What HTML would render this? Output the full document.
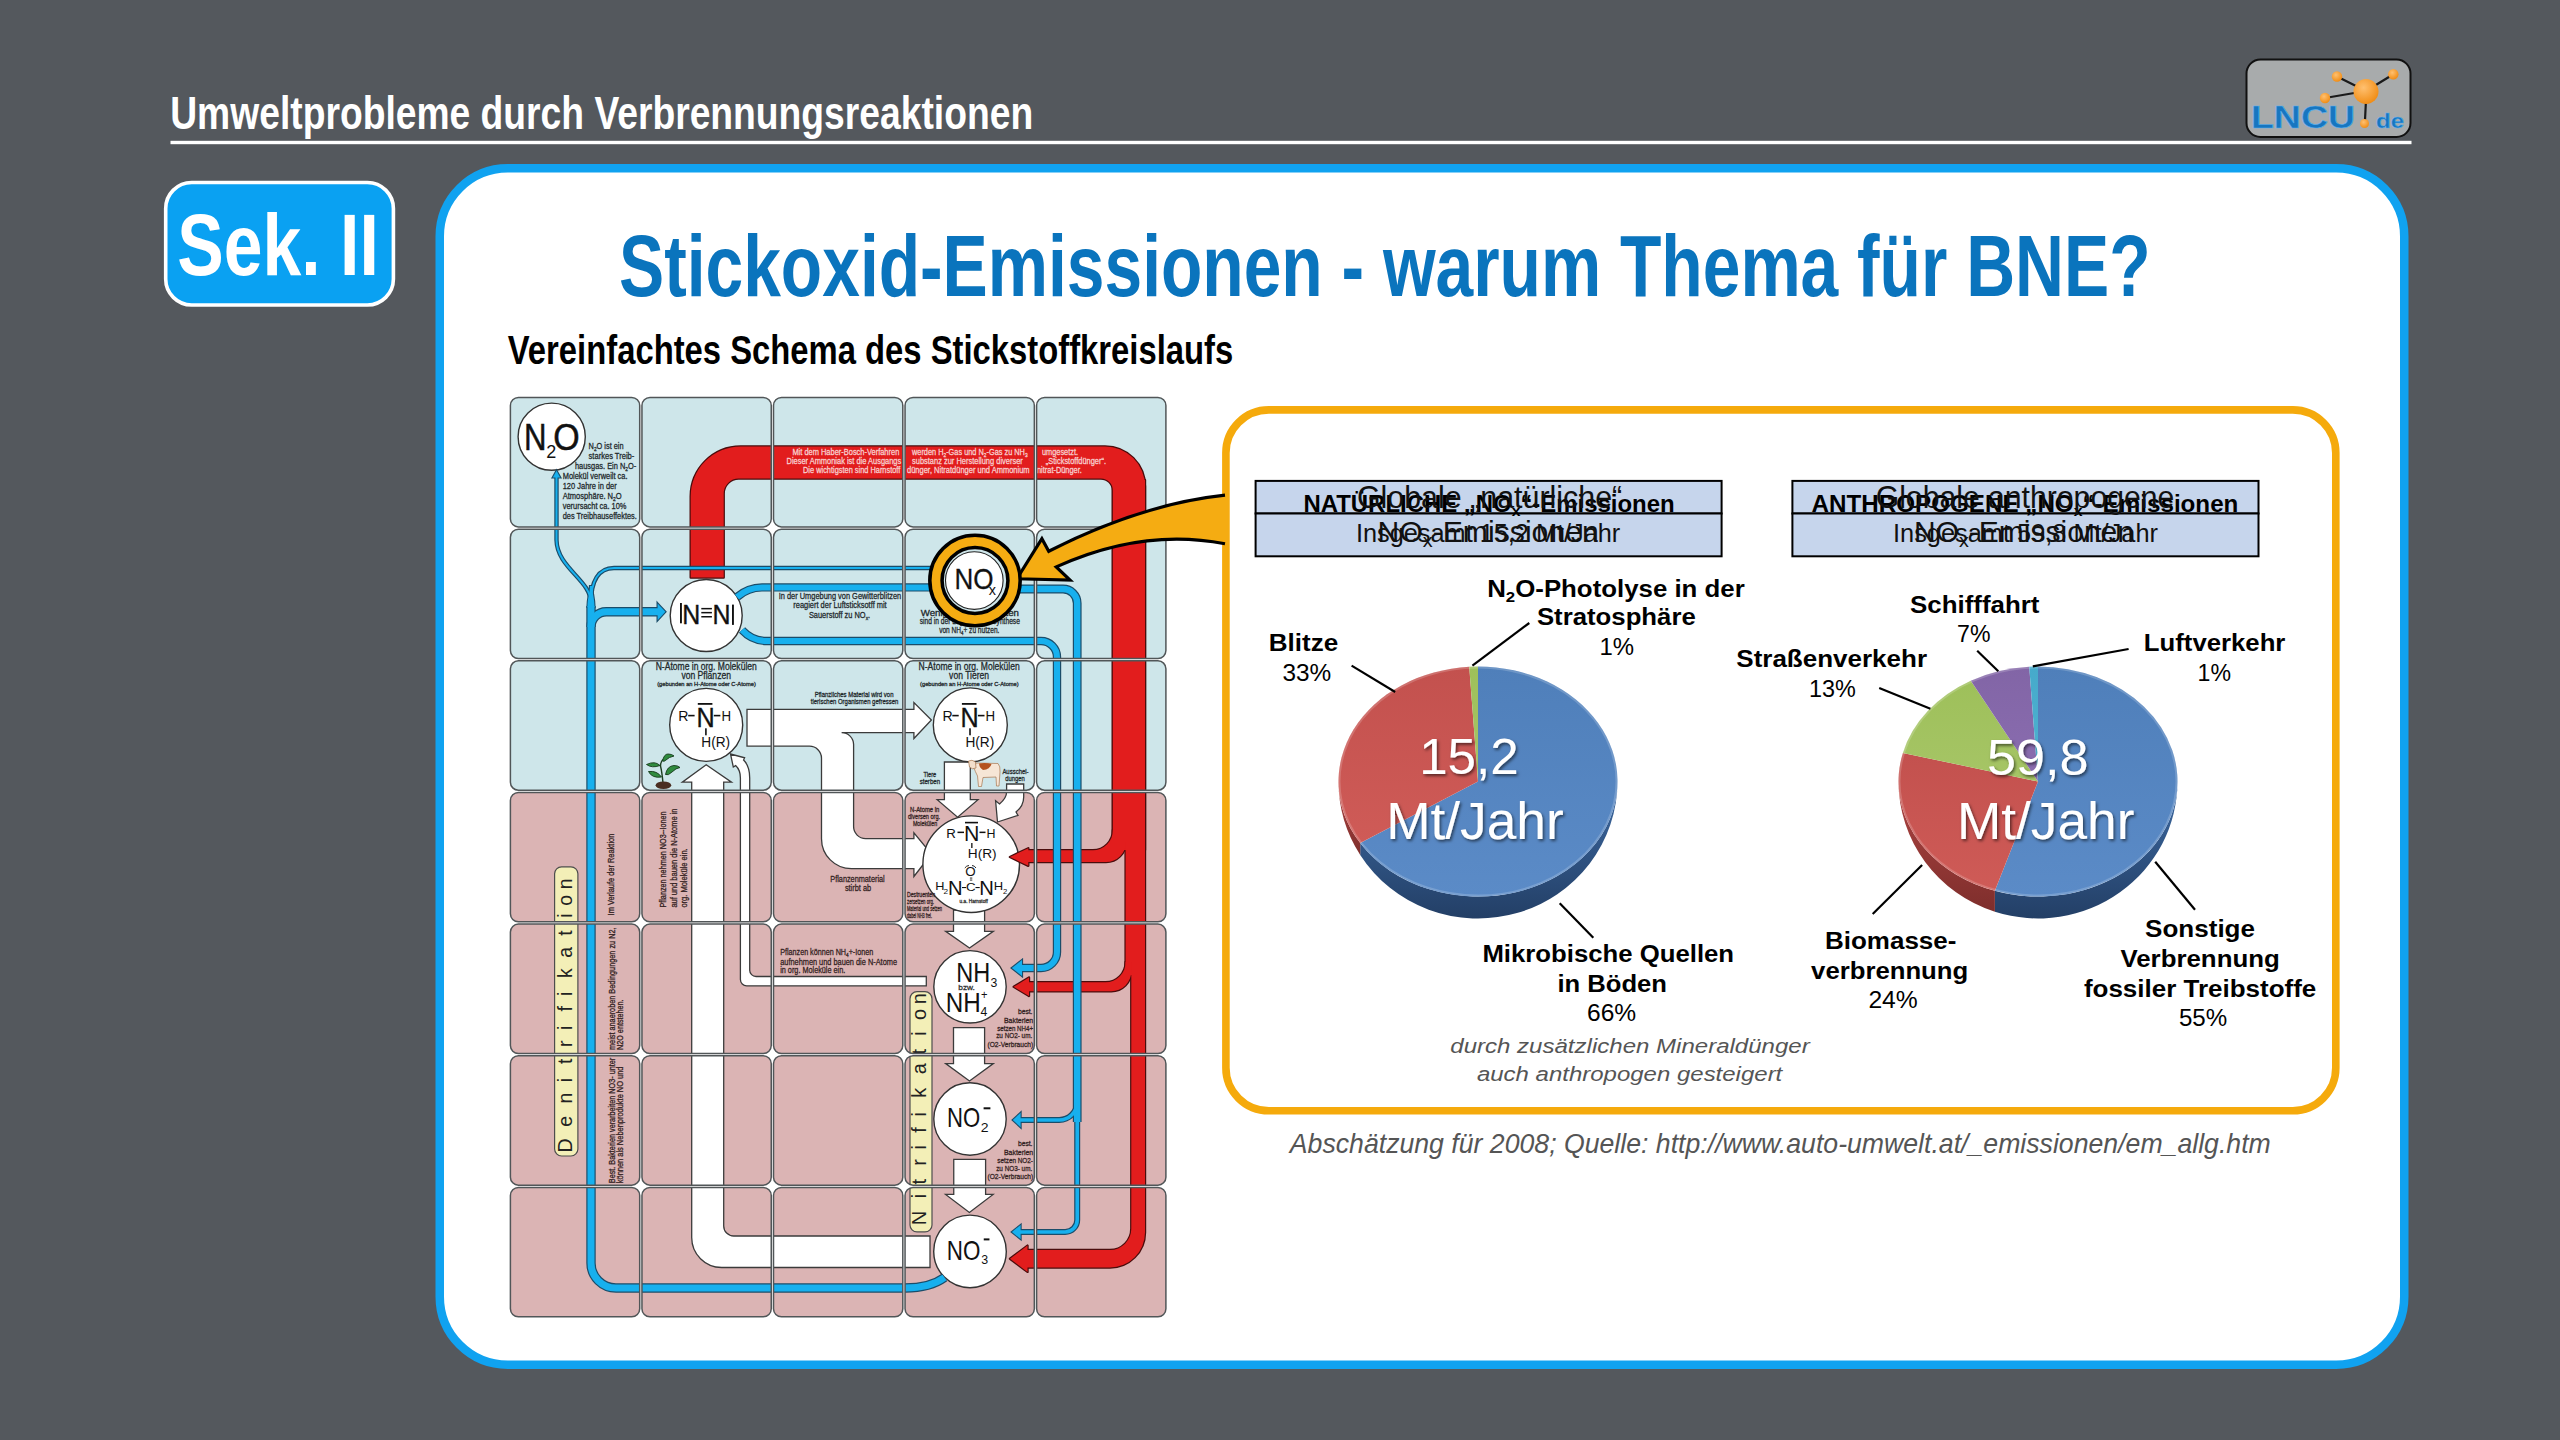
<!DOCTYPE html>
<html><head><meta charset="utf-8"><title>Stickoxid-Emissionen</title>
<style>html,body{margin:0;padding:0;background:#54585d;overflow:hidden}svg{display:block}</style>
</head><body>
<svg width="2560" height="1440" viewBox="0 0 2560 1440" font-family='"Liberation Sans", sans-serif'><rect x="0" y="0" width="2560" height="1440" fill="#54585d"/>
<text x="170.2" y="128.7" font-size="46" fill="#fff" font-weight="bold" textLength="863.0" lengthAdjust="spacingAndGlyphs">Umweltprobleme durch Verbrennungsreaktionen</text>
<rect x="170.5" y="140.8" width="2241" height="3.4" fill="#fff"/>
<rect x="2246.5" y="59.5" width="164" height="77.5" rx="14" fill="#a8abac" stroke="#111" stroke-width="2"/>
<g stroke="#1a1a1a" stroke-width="2.2" stroke-linecap="round"><line x1="2366" y1="91" x2="2337" y2="76.5"/><line x1="2366" y1="91" x2="2393" y2="74.5"/><line x1="2366" y1="91" x2="2325" y2="98"/><line x1="2366" y1="100" x2="2365" y2="120"/></g>
<defs><radialGradient id="og" cx="0.4" cy="0.35" r="0.7"><stop offset="0" stop-color="#ffc070"/><stop offset="1" stop-color="#f08a10"/></radialGradient></defs>
<circle cx="2366" cy="91.5" r="12.5" fill="url(#og)"/>
<circle cx="2337" cy="76.5" r="5.2" fill="url(#og)"/>
<circle cx="2393.3" cy="74.2" r="5.2" fill="url(#og)"/>
<circle cx="2325" cy="98" r="5.2" fill="url(#og)"/>
<circle cx="2364.5" cy="123.5" r="4.5" fill="url(#og)"/>
<text x="2251.0" y="128.3" font-size="31" fill="#1776c0" font-weight="bold" textLength="104.0" lengthAdjust="spacingAndGlyphs" stroke="#5ab0ee" stroke-width="0.6">LNCU</text>
<text x="2376.0" y="128.3" font-size="21" fill="#1776c0" font-weight="bold" textLength="28.0" lengthAdjust="spacingAndGlyphs" stroke="#5ab0ee" stroke-width="0.5">de</text>
<rect x="165.7" y="182.5" width="227.7" height="122.5" rx="26" fill="#0aa1f2" stroke="#fff" stroke-width="3.6"/>
<text x="177.3" y="275.4" font-size="87" fill="#fff" font-weight="bold" textLength="201.5" lengthAdjust="spacingAndGlyphs">Sek. II</text>
<rect x="439.75" y="168.25" width="1964.5" height="1196.5" rx="68" fill="#fff" stroke="#10a2f0" stroke-width="8.5"/>
<text x="619.0" y="295.5" font-size="86.5" fill="#0a74bd" font-weight="bold" textLength="1531.5" lengthAdjust="spacingAndGlyphs">Stickoxid-Emissionen - warum Thema für BNE?</text>
<text x="507.8" y="363.6" font-size="40" fill="#000" font-weight="bold" textLength="725.4" lengthAdjust="spacingAndGlyphs">Vereinfachtes Schema des Stickstoffkreislaufs</text>
<rect x="1225.9" y="409.9" width="1109.9" height="700.9" rx="43" fill="#fff" stroke="#f5aa0c" stroke-width="7.6"/>
<text x="1289.8" y="1152.8" font-size="27.2" fill="#555" font-style="italic" textLength="981.0" lengthAdjust="spacingAndGlyphs">Abschätzung für 2008; Quelle: http://www.auto-umwelt.at/_emissionen/em_allg.htm</text>
<defs><clipPath id="cells"><rect x="510.40" y="397.50" width="129.3" height="129.4" rx="8"/><rect x="641.95" y="397.50" width="129.3" height="129.4" rx="8"/><rect x="773.50" y="397.50" width="129.3" height="129.4" rx="8"/><rect x="905.05" y="397.50" width="129.3" height="129.4" rx="8"/><rect x="1036.60" y="397.50" width="129.3" height="129.4" rx="8"/><rect x="510.40" y="529.15" width="129.3" height="129.4" rx="8"/><rect x="641.95" y="529.15" width="129.3" height="129.4" rx="8"/><rect x="773.50" y="529.15" width="129.3" height="129.4" rx="8"/><rect x="905.05" y="529.15" width="129.3" height="129.4" rx="8"/><rect x="1036.60" y="529.15" width="129.3" height="129.4" rx="8"/><rect x="510.40" y="660.80" width="129.3" height="129.4" rx="8"/><rect x="641.95" y="660.80" width="129.3" height="129.4" rx="8"/><rect x="773.50" y="660.80" width="129.3" height="129.4" rx="8"/><rect x="905.05" y="660.80" width="129.3" height="129.4" rx="8"/><rect x="1036.60" y="660.80" width="129.3" height="129.4" rx="8"/><rect x="510.40" y="792.45" width="129.3" height="129.4" rx="8"/><rect x="641.95" y="792.45" width="129.3" height="129.4" rx="8"/><rect x="773.50" y="792.45" width="129.3" height="129.4" rx="8"/><rect x="905.05" y="792.45" width="129.3" height="129.4" rx="8"/><rect x="1036.60" y="792.45" width="129.3" height="129.4" rx="8"/><rect x="510.40" y="924.10" width="129.3" height="129.4" rx="8"/><rect x="641.95" y="924.10" width="129.3" height="129.4" rx="8"/><rect x="773.50" y="924.10" width="129.3" height="129.4" rx="8"/><rect x="905.05" y="924.10" width="129.3" height="129.4" rx="8"/><rect x="1036.60" y="924.10" width="129.3" height="129.4" rx="8"/><rect x="510.40" y="1055.75" width="129.3" height="129.4" rx="8"/><rect x="641.95" y="1055.75" width="129.3" height="129.4" rx="8"/><rect x="773.50" y="1055.75" width="129.3" height="129.4" rx="8"/><rect x="905.05" y="1055.75" width="129.3" height="129.4" rx="8"/><rect x="1036.60" y="1055.75" width="129.3" height="129.4" rx="8"/><rect x="510.40" y="1187.40" width="129.3" height="129.4" rx="8"/><rect x="641.95" y="1187.40" width="129.3" height="129.4" rx="8"/><rect x="773.50" y="1187.40" width="129.3" height="129.4" rx="8"/><rect x="905.05" y="1187.40" width="129.3" height="129.4" rx="8"/><rect x="1036.60" y="1187.40" width="129.3" height="129.4" rx="8"/></clipPath><linearGradient id="cellB" x1="0" y1="0" x2="1" y2="1"><stop offset="0" stop-color="#cde6ea"/><stop offset="1" stop-color="#d0e7ec"/></linearGradient><linearGradient id="cellP" x1="0" y1="0" x2="1" y2="1"><stop offset="0" stop-color="#dab3b4"/><stop offset="1" stop-color="#dcb6b6"/></linearGradient></defs>
<g clip-path="url(#cells)">
<rect x="505" y="390" width="670" height="402.5" fill="#cee6ea"/>
<rect x="505" y="791.5" width="670" height="537.5" fill="#dbb4b4"/>
<path d="M930,1236 H733.7 A10,10 0 0 1 723.7,1226 V782.2 H731.5 L706.2,764.7 L682.3,782.2 H691.7 V1237.5 A30,30 0 0 0 721.7,1267.5 H930 Z" fill="#fff" stroke="#3b3b3b" stroke-width="1.3" stroke-linejoin="miter"/>
<path d="M926.3,976.5 H756 A6.3,6.3 0 0 1 749.7,970.2 V778 Q749.7,766 743.6,760 L744.6,757.8 L730.5,754 L733.3,767 L735.6,765.6 Q740.4,770 740.4,778 V979.5 A6.3,6.3 0 0 0 746.7,985.8 H926.3 Z" fill="#fff" stroke="#3b3b3b" stroke-width="1.3" stroke-linejoin="miter"/>
<path d="M747,709.3 H913.9 V702.5 L931.4,720 L913.9,738.5 V732.6 H841.6 A12,12 0 0 1 853.6,744.6 V826.6 A12,12 0 0 0 865.6,838.6 H913.9 V832.8 L931.4,854 L913.9,876.5 V868.7 H851.5 A30,30 0 0 1 821.5,838.7 V758.2 A12,12 0 0 0 809.5,746.2 H747 Z" fill="#fff" stroke="#3b3b3b" stroke-width="1.3" stroke-linejoin="miter"/>
<path d="M944.4,762 H970.3 V799.7 H978 L957.6,817.2 L937.2,799.7 H944.4 Z" fill="#fff" stroke="#3b3b3b" stroke-width="1.3" stroke-linejoin="miter"/>
<path d="M1006.6,784 H1023.7 V797 Q1023.7,806 1016,812 L1018,815.3 L997.5,822 L995.6,800.7 L999.5,804 Q1006.6,798 1006.6,792 Z" fill="#fff" stroke="#3b3b3b" stroke-width="1.3" stroke-linejoin="miter"/>
<path d="M953.5,910 H984.6 V931.4 H993.3 L969.5,948 L945.7,931.4 H953.5 Z" fill="#fff" stroke="#3b3b3b" stroke-width="1.3" stroke-linejoin="miter"/>
<path d="M953.5,1027.6 H984.6 V1063.6 H993.3 L969.5,1081 L945.7,1063.6 H953.5 Z" fill="#fff" stroke="#3b3b3b" stroke-width="1.3" stroke-linejoin="miter"/>
<path d="M953.75,1159.4 H985.6 V1194.4 H993.1 L969.4,1212.5 L945.6,1194.4 H953.75 Z" fill="#fff" stroke="#3b3b3b" stroke-width="1.3" stroke-linejoin="miter"/>
<circle cx="551.7" cy="436.7" r="33.6" fill="#fff" stroke="#333" stroke-width="1.4"/>
<circle cx="706.2" cy="615.5" r="36" fill="#fff" stroke="#333" stroke-width="1.4"/>
<circle cx="706.2" cy="724.9" r="36.5" fill="#fff" stroke="#333" stroke-width="1.4"/>
<circle cx="970.3" cy="724.9" r="37" fill="#fff" stroke="#333" stroke-width="1.4"/>
<circle cx="971.2" cy="864.2" r="48.3" fill="#fff" stroke="#333" stroke-width="1.4"/>
<circle cx="970" cy="986.8" r="36.2" fill="#fff" stroke="#333" stroke-width="1.4"/>
<circle cx="970" cy="1119" r="36.2" fill="#fff" stroke="#333" stroke-width="1.4"/>
<circle cx="970" cy="1251.4" r="36.3" fill="#fff" stroke="#333" stroke-width="1.4"/>
<path d="M690.7,577.6 V496.4 A50,50 0 0 1 740.7,446.4 H1105 A40,40 0 0 1 1145,486.4 V850 H1112.9 V490.5 A12,12 0 0 0 1100.9,478.5 H738.7 A15,15 0 0 0 723.7,493.5 V577.6 Z" fill="none" stroke="#4a0c0c" stroke-width="2.4" stroke-linejoin="round"/>
<path d="M1145,480 V1232.5 A35,35 0 0 1 1110,1267.5 H1027.5 V1271.9 L1010,1258.75 L1027.5,1245.6 V1250 H1110 A21.3,21.3 0 0 0 1131.3,1228.7 V975 H1125.6 V848 H1112.9 V480 Z" fill="none" stroke="#4a0c0c" stroke-width="2.4" stroke-linejoin="round"/>
<path d="M1112.9,830 A20,20 0 0 1 1092.9,850.3 H1028.3 V848.3 L1009.9,857 L1028.3,865.8 V862 H1106 A20,20 0 0 0 1126,842 V830 Z" fill="none" stroke="#4a0c0c" stroke-width="2.4" stroke-linejoin="round"/>
<path d="M1125.6,962 A20,20 0 0 1 1105.6,982.3 H1029 V977.5 L1013.7,986.8 L1029,996 V991.3 H1111 A20,20 0 0 0 1131.3,971 V962 Z" fill="none" stroke="#4a0c0c" stroke-width="2.4" stroke-linejoin="round"/>
<path d="M690.7,577.6 V496.4 A50,50 0 0 1 740.7,446.4 H1105 A40,40 0 0 1 1145,486.4 V850 H1112.9 V490.5 A12,12 0 0 0 1100.9,478.5 H738.7 A15,15 0 0 0 723.7,493.5 V577.6 Z" fill="#e21d1d"/>
<path d="M1145,480 V1232.5 A35,35 0 0 1 1110,1267.5 H1027.5 V1271.9 L1010,1258.75 L1027.5,1245.6 V1250 H1110 A21.3,21.3 0 0 0 1131.3,1228.7 V975 H1125.6 V848 H1112.9 V480 Z" fill="#e21d1d"/>
<path d="M1112.9,830 A20,20 0 0 1 1092.9,850.3 H1028.3 V848.3 L1009.9,857 L1028.3,865.8 V862 H1106 A20,20 0 0 0 1126,842 V830 Z" fill="#e21d1d"/>
<path d="M1125.6,962 A20,20 0 0 1 1105.6,982.3 H1029 V977.5 L1013.7,986.8 L1029,996 V991.3 H1111 A20,20 0 0 0 1131.3,971 V962 Z" fill="#e21d1d"/>
<text x="792.4" y="455.1" font-size="9" fill="#f8d0d0" textLength="106.9" lengthAdjust="spacingAndGlyphs" stroke="#f8d0d0" stroke-width="0.3">Mit dem Haber-Bosch-Verfahren</text>
<text x="786.5" y="463.9" font-size="9" fill="#f8d0d0" textLength="114.7" lengthAdjust="spacingAndGlyphs" stroke="#f8d0d0" stroke-width="0.3">Dieser Ammoniak ist die Ausgangs</text>
<text x="803.0" y="473.2" font-size="9" fill="#f8d0d0" textLength="97.3" lengthAdjust="spacingAndGlyphs" stroke="#f8d0d0" stroke-width="0.3">Die wichtigsten sind Harnstoff</text>
<text x="912.0" y="455.1" font-size="9" fill="#f8d0d0" textLength="115.6" lengthAdjust="spacingAndGlyphs" stroke="#f8d0d0" stroke-width="0.3"><tspan>werden H</tspan><tspan font-size="5.9" dy="2.0">2</tspan><tspan dy="-2.0">-Gas und N</tspan><tspan font-size="5.9" dy="2.0">2</tspan><tspan dy="-2.0">-Gas zu NH</tspan><tspan font-size="5.9" dy="2.0">3</tspan></text>
<text x="912.0" y="463.9" font-size="9" fill="#f8d0d0" textLength="110.8" lengthAdjust="spacingAndGlyphs" stroke="#f8d0d0" stroke-width="0.3">substanz zur Herstellung diverser</text>
<text x="907.0" y="473.2" font-size="9" fill="#f8d0d0" textLength="122.6" lengthAdjust="spacingAndGlyphs" stroke="#f8d0d0" stroke-width="0.3">dünger, Nitratdünger und Ammonium</text>
<text x="1042.0" y="455.1" font-size="9" fill="#f8d0d0" textLength="36.0" lengthAdjust="spacingAndGlyphs" stroke="#f8d0d0" stroke-width="0.3">umgesetzt.</text>
<text x="1045.8" y="463.9" font-size="9" fill="#f8d0d0" textLength="60.2" lengthAdjust="spacingAndGlyphs" stroke="#f8d0d0" stroke-width="0.3">„Stickstoffdünger“.</text>
<text x="1037.0" y="473.2" font-size="9" fill="#f8d0d0" textLength="44.8" lengthAdjust="spacingAndGlyphs" stroke="#f8d0d0" stroke-width="0.3">nitrat-Dünger.</text>
<path d="M944.5,1277.5 Q930,1288 905,1288 H616 A25,25 0 0 1 591,1263 V606" fill="none" stroke="#1b4d6a" stroke-width="9.4"/>
<path d="M591,627 A15.3,15.3 0 0 1 606.3,611.7 H658" fill="none" stroke="#1b4d6a" stroke-width="9.4"/>
<path d="M591,603 C591,580 557,568 556.5,540 V476" fill="none" stroke="#1b4d6a" stroke-width="4.4"/>
<path d="M591,603 C591,582 598,568 614,568 H935" fill="none" stroke="#1b4d6a" stroke-width="4.4"/>
<path d="M737,597 Q748,587.4 762,587.4 H945" fill="none" stroke="#1b4d6a" stroke-width="8.4"/>
<path d="M1005,589 H1063 A14.2,14.2 0 0 1 1077.2,603.2 V1122" fill="none" stroke="#1b4d6a" stroke-width="8.8"/>
<path d="M1077.2,1110 V1220 A12,12 0 0 1 1065.2,1232 H1019" fill="none" stroke="#1b4d6a" stroke-width="6.0"/>
<path d="M1077.2,1102 A18,18 0 0 1 1059.2,1120 H1019" fill="none" stroke="#1b4d6a" stroke-width="6.0"/>
<path d="M742,630 Q752,641 767,641 H1041 A16,16 0 0 1 1057,657 V952 A16,16 0 0 1 1041,968 H1020" fill="none" stroke="#1b4d6a" stroke-width="8.4"/>
<path d="M657.6,603.4 L665.4,611.7 L657.6,620.2 Z" fill="#17b0ee" stroke="#1b4d6a" stroke-width="2.2" stroke-linejoin="miter"/>
<path d="M552.8,477.5 L556.5,470.7 L560.2,477.5 Z" fill="#17b0ee" stroke="#1b4d6a" stroke-width="2.2" stroke-linejoin="miter"/>
<path d="M587.5,607 C587.5,598 589.8,593 590,586 L592,586 C592.2,593 594.5,598 594.5,607 Z" fill="#17b0ee" stroke="#1b4d6a" stroke-width="2.2" stroke-linejoin="miter"/>
<path d="M1020.6,1112.8 L1012.8,1120 L1020.6,1127.2 Z" fill="#17b0ee" stroke="#1b4d6a" stroke-width="2.2" stroke-linejoin="miter"/>
<path d="M1020.6,1225 L1011.9,1232 L1020.6,1239 Z" fill="#17b0ee" stroke="#1b4d6a" stroke-width="2.2" stroke-linejoin="miter"/>
<path d="M1022,960 L1011.8,968 L1022,976 Z" fill="#17b0ee" stroke="#1b4d6a" stroke-width="2.2" stroke-linejoin="miter"/>
<path d="M944.5,1277.5 Q930,1288 905,1288 H616 A25,25 0 0 1 591,1263 V606" fill="none" stroke="#17b0ee" stroke-width="7.0"/>
<path d="M591,627 A15.3,15.3 0 0 1 606.3,611.7 H658" fill="none" stroke="#17b0ee" stroke-width="7.0"/>
<path d="M591,603 C591,580 557,568 556.5,540 V476" fill="none" stroke="#17b0ee" stroke-width="2.0"/>
<path d="M591,603 C591,582 598,568 614,568 H935" fill="none" stroke="#17b0ee" stroke-width="2.0"/>
<path d="M737,597 Q748,587.4 762,587.4 H945" fill="none" stroke="#17b0ee" stroke-width="6.0"/>
<path d="M1005,589 H1063 A14.2,14.2 0 0 1 1077.2,603.2 V1122" fill="none" stroke="#17b0ee" stroke-width="6.4"/>
<path d="M1077.2,1110 V1220 A12,12 0 0 1 1065.2,1232 H1019" fill="none" stroke="#17b0ee" stroke-width="3.6"/>
<path d="M1077.2,1102 A18,18 0 0 1 1059.2,1120 H1019" fill="none" stroke="#17b0ee" stroke-width="3.6"/>
<path d="M742,630 Q752,641 767,641 H1041 A16,16 0 0 1 1057,657 V952 A16,16 0 0 1 1041,968 H1020" fill="none" stroke="#17b0ee" stroke-width="6.0"/>
<path d="M657.6,603.4 L665.4,611.7 L657.6,620.2 Z" fill="#17b0ee"/>
<path d="M552.8,477.5 L556.5,470.7 L560.2,477.5 Z" fill="#17b0ee"/>
<path d="M587.5,607 C587.5,598 589.8,593 590,586 L592,586 C592.2,593 594.5,598 594.5,607 Z" fill="#17b0ee"/>
<path d="M1020.6,1112.8 L1012.8,1120 L1020.6,1127.2 Z" fill="#17b0ee"/>
<path d="M1020.6,1225 L1011.9,1232 L1020.6,1239 Z" fill="#17b0ee"/>
<path d="M1022,960 L1011.8,968 L1022,976 Z" fill="#17b0ee"/>
<rect x="554.6" y="866.8" width="23.3" height="289.2" rx="7" fill="#f3efb7" stroke="#4d4d4d" stroke-width="1.2"/>
<rect x="910" y="991.7" width="22" height="240.2" rx="7" fill="#f3efb7" stroke="#4d4d4d" stroke-width="1.2"/>
<text x="-1.0 24.7 48.0 69.2 87.5 104.5 121.6 140.0 155.6 173.5 193.8 215.8 233.8 245.8 262.3" y="0" font-size="19.5" fill="#222" transform="translate(572.2,1151.5) rotate(-90)">Denitrifikation</text>
<text x="-0.7 26.3 40.0 58.8 75.0 91.8 108.0 126.8 150.2 170.0 188.8 204.6 220.2" y="0" font-size="20" fill="#222" transform="translate(926.4,1224.5) rotate(-90)">Nitrifikation</text>
<text x="523.9" y="449.5" font-size="37" fill="#111" textLength="22.5" lengthAdjust="spacingAndGlyphs" stroke="#111" stroke-width="0.5">N</text>
<text x="546.2" y="457.8" font-size="18.6" fill="#111" textLength="10.0" lengthAdjust="spacingAndGlyphs" stroke="none">2</text>
<text x="553.3" y="449.5" font-size="37" fill="#111" textLength="26.4" lengthAdjust="spacingAndGlyphs" stroke="#111" stroke-width="0.5">O</text>
<rect x="680" y="603" width="1.9" height="20.3" fill="#111"/><rect x="732" y="604.6" width="1.9" height="20.3" fill="#111"/>
<rect x="701.3" y="607.9" width="10.6" height="1.5" fill="#111"/><rect x="701.3" y="611.9" width="10.6" height="1.5" fill="#111"/><rect x="701.3" y="616" width="10.6" height="1.5" fill="#111"/>
<text x="682.2" y="623.5" font-size="27.2" fill="#111" textLength="18.0" lengthAdjust="spacingAndGlyphs" stroke="#111" stroke-width="0.4">N</text>
<text x="712.4" y="623.8" font-size="27.2" fill="#111" textLength="18.0" lengthAdjust="spacingAndGlyphs" stroke="#111" stroke-width="0.4">N</text>
<text x="678.3" y="720.8" font-size="14" fill="#111" textLength="10.2" lengthAdjust="spacingAndGlyphs" stroke="none">R</text>
<rect x="688.2" y="714.8" width="6.4" height="1.6" fill="#111"/>
<text x="696.5" y="726.5" font-size="27.5" fill="#111" textLength="18.2" lengthAdjust="spacingAndGlyphs" stroke="#111" stroke-width="0.35">N</text>
<rect x="697.8" y="703" width="14.6" height="1.8" fill="#111"/>
<rect x="713.8" y="714.8" width="6.6" height="1.6" fill="#111"/>
<text x="721.5" y="720.8" font-size="14" fill="#111" textLength="9.6" lengthAdjust="spacingAndGlyphs" stroke="none">H</text>
<rect x="705.1" y="728.3" width="1.6" height="7" fill="#111"/>
<text x="701.3" y="746.5" font-size="13.8" fill="#111" textLength="28.8" lengthAdjust="spacingAndGlyphs" stroke="none">H(R)</text>
<text x="942.4" y="720.8" font-size="14" fill="#111" textLength="10.2" lengthAdjust="spacingAndGlyphs" stroke="none">R</text>
<rect x="952.3000000000001" y="714.8" width="6.4" height="1.6" fill="#111"/>
<text x="960.6" y="726.5" font-size="27.5" fill="#111" textLength="18.2" lengthAdjust="spacingAndGlyphs" stroke="#111" stroke-width="0.35">N</text>
<rect x="961.9" y="703" width="14.6" height="1.8" fill="#111"/>
<rect x="977.9" y="714.8" width="6.6" height="1.6" fill="#111"/>
<text x="985.6" y="720.8" font-size="14" fill="#111" textLength="9.6" lengthAdjust="spacingAndGlyphs" stroke="none">H</text>
<rect x="969.2" y="728.3" width="1.6" height="7" fill="#111"/>
<text x="965.4" y="746.5" font-size="13.8" fill="#111" textLength="28.8" lengthAdjust="spacingAndGlyphs" stroke="none">H(R)</text>
<text x="946.3" y="837.8" font-size="13.4" fill="#111" textLength="9.6" lengthAdjust="spacingAndGlyphs" stroke="none">R</text>
<rect x="957.5" y="831.6" width="6.5" height="1.5" fill="#111"/>
<text x="964.0" y="840.7" font-size="22" fill="#111" textLength="15.4" lengthAdjust="spacingAndGlyphs">N</text>
<rect x="965" y="821.8" width="13" height="1.6" fill="#111"/>
<rect x="979.5" y="831.6" width="6" height="1.5" fill="#111"/>
<text x="986.5" y="837.8" font-size="13.4" fill="#111" textLength="9.0" lengthAdjust="spacingAndGlyphs" stroke="none">H</text>
<rect x="971.2" y="843" width="1.3" height="5" fill="#111"/>
<text x="967.8" y="857.9" font-size="13" fill="#111" textLength="28.8" lengthAdjust="spacingAndGlyphs" stroke="none">H(R)</text>
<text x="965.3" y="876.0" font-size="12.5" fill="#111" textLength="10.4" lengthAdjust="spacingAndGlyphs" stroke="none">O</text>
<path d="M964.8,868 Q966.5,865.6 969,865.5 M972,865.5 Q974.5,865.6 976,868" fill="none" stroke="#111" stroke-width="0.9"/>
<rect x="969.9" y="877.6" width="2.4" height="0.9" fill="#111"/><rect x="969.9" y="879.6" width="2.4" height="0.9" fill="#111"/>
<text x="935.3" y="890.2" font-size="11" fill="#111" textLength="9.2" lengthAdjust="spacingAndGlyphs" stroke="none">H</text>
<text x="943.6" y="893.8" font-size="6.5" fill="#111" textLength="4.6" lengthAdjust="spacingAndGlyphs" stroke="none">2</text>
<text x="947.9" y="895.1" font-size="21" fill="#111" textLength="14.6" lengthAdjust="spacingAndGlyphs">N</text>
<rect x="962" y="887" width="4.2" height="1.1" fill="#111"/>
<text x="966.0" y="890.9" font-size="11" fill="#111" textLength="9.6" lengthAdjust="spacingAndGlyphs" stroke="none">C</text>
<rect x="975.5" y="887" width="4.2" height="1.1" fill="#111"/>
<text x="979.3" y="895.1" font-size="21" fill="#111" textLength="14.6" lengthAdjust="spacingAndGlyphs">N</text>
<text x="993.7" y="890.2" font-size="11" fill="#111" textLength="9.4" lengthAdjust="spacingAndGlyphs" stroke="none">H</text>
<text x="1003.0" y="893.8" font-size="6.5" fill="#111" textLength="4.3" lengthAdjust="spacingAndGlyphs" stroke="none">2</text>
<text x="959.6" y="903.4" font-size="5" fill="#333" textLength="28.2" lengthAdjust="spacingAndGlyphs" stroke="#333" stroke-width="0.3">u.a. Harnstoff</text>
<text x="956.2" y="982.0" font-size="28" fill="#111" textLength="34.0" lengthAdjust="spacingAndGlyphs">NH</text>
<text x="990.4" y="986.8" font-size="13" fill="#111" textLength="6.8" lengthAdjust="spacingAndGlyphs">3</text>
<text x="958.3" y="989.7" font-size="8" fill="#333" textLength="16.6" lengthAdjust="spacingAndGlyphs" stroke="#333" stroke-width="0.3">bzw.</text>
<text x="945.8" y="1011.8" font-size="28" fill="#111" textLength="35.0" lengthAdjust="spacingAndGlyphs">NH</text>
<text x="980.5" y="1016.3" font-size="13.5" fill="#111" textLength="6.8" lengthAdjust="spacingAndGlyphs">4</text>
<text x="981.0" y="999.0" font-size="12" fill="#111" textLength="6.5" lengthAdjust="spacingAndGlyphs">+</text>
<text x="946.9" y="1127.2" font-size="28" fill="#111" textLength="33.2" lengthAdjust="spacingAndGlyphs">NO</text>
<text x="980.7" y="1131.7" font-size="13" fill="#111" textLength="7.8" lengthAdjust="spacingAndGlyphs">2</text>
<rect x="983.6" y="1107.3" width="6.8" height="2" fill="#111"/>
<text x="946.8" y="1259.8" font-size="28" fill="#111" textLength="33.6" lengthAdjust="spacingAndGlyphs">NO</text>
<text x="981.2" y="1263.8" font-size="13" fill="#111" textLength="6.9" lengthAdjust="spacingAndGlyphs">3</text>
<rect x="983.75" y="1238.4" width="5.7" height="2" fill="#111"/>
<text x="588.6" y="449.3" font-size="9.5" fill="#22292c" textLength="35.0" lengthAdjust="spacingAndGlyphs" stroke="#22292c" stroke-width="0.3"><tspan>N</tspan><tspan font-size="6.2" dy="2.1">2</tspan><tspan dy="-2.1">O ist ein</tspan></text>
<text x="588.6" y="459.4" font-size="9.5" fill="#22292c" textLength="45.7" lengthAdjust="spacingAndGlyphs" stroke="#22292c" stroke-width="0.3">starkes Treib-</text>
<text x="575.0" y="468.7" font-size="9.5" fill="#22292c" textLength="61.2" lengthAdjust="spacingAndGlyphs" stroke="#22292c" stroke-width="0.3"><tspan>hausgas. Ein N</tspan><tspan font-size="6.2" dy="2.1">2</tspan><tspan dy="-2.1">O-</tspan></text>
<text x="562.7" y="478.5" font-size="9.5" fill="#22292c" textLength="64.8" lengthAdjust="spacingAndGlyphs" stroke="#22292c" stroke-width="0.3">Molekül verweilt ca.</text>
<text x="562.7" y="489.2" font-size="9.5" fill="#22292c" textLength="54.1" lengthAdjust="spacingAndGlyphs" stroke="#22292c" stroke-width="0.3">120 Jahre in der</text>
<text x="562.7" y="498.9" font-size="9.5" fill="#22292c" textLength="59.0" lengthAdjust="spacingAndGlyphs" stroke="#22292c" stroke-width="0.3"><tspan>Atmosphäre. N</tspan><tspan font-size="6.2" dy="2.1">2</tspan><tspan dy="-2.1">O</tspan></text>
<text x="562.7" y="509.0" font-size="9.5" fill="#22292c" textLength="63.8" lengthAdjust="spacingAndGlyphs" stroke="#22292c" stroke-width="0.3">verursacht ca. 10%</text>
<text x="562.7" y="519.3" font-size="9.5" fill="#22292c" textLength="74.1" lengthAdjust="spacingAndGlyphs" stroke="#22292c" stroke-width="0.3">des Treibhauseffektes.</text>
<text x="778.7" y="599.0" font-size="9.5" fill="#22292c" textLength="122.5" lengthAdjust="spacingAndGlyphs" stroke="#22292c" stroke-width="0.3">In der Umgebung von Gewitterblitzen</text>
<text x="793.3" y="608.2" font-size="9.5" fill="#22292c" textLength="93.4" lengthAdjust="spacingAndGlyphs" stroke="#22292c" stroke-width="0.3">reagiert der Luftsticksotff mit</text>
<text x="808.9" y="617.5" font-size="9.5" fill="#22292c" textLength="61.2" lengthAdjust="spacingAndGlyphs" stroke="#22292c" stroke-width="0.3"><tspan>Sauerstoff zu NO</tspan><tspan font-size="6.2" dy="2.1">x</tspan><tspan dy="-2.1">.</tspan></text>
<text x="920.7" y="615.5" font-size="9" fill="#22292c" textLength="98.2" lengthAdjust="spacingAndGlyphs" stroke="#22292c" stroke-width="0.3">Wenige Bakterienarten</text>
<text x="919.7" y="624.3" font-size="9" fill="#22292c" textLength="100.2" lengthAdjust="spacingAndGlyphs" stroke="#22292c" stroke-width="0.3">sind in der Lage, N2 zur Synthese</text>
<text x="939.2" y="633.0" font-size="9" fill="#22292c" textLength="60.2" lengthAdjust="spacingAndGlyphs" stroke="#22292c" stroke-width="0.3"><tspan>von NH</tspan><tspan font-size="5.9" dy="2.0">4</tspan><tspan dy="-2.0">+ zu nutzen.</tspan></text>
<text x="655.7" y="670.4" font-size="10.5" fill="#22292c" textLength="101.1" lengthAdjust="spacingAndGlyphs" stroke="#22292c" stroke-width="0.3">N-Atome in org. Molekülen</text>
<text x="706.2" y="679.2" font-size="10.5" fill="#22292c" text-anchor="middle" textLength="49.5" lengthAdjust="spacingAndGlyphs" stroke="#22292c" stroke-width="0.3">von Pflanzen</text>
<text x="657.2" y="686.0" font-size="5.8" fill="#22292c" textLength="98.6" lengthAdjust="spacingAndGlyphs" stroke="#22292c" stroke-width="0.3">(gebunden an H-Atome oder C-Atome)</text>
<text x="918.6" y="670.4" font-size="10.5" fill="#22292c" textLength="101.1" lengthAdjust="spacingAndGlyphs" stroke="#22292c" stroke-width="0.3">N-Atome in org. Molekülen</text>
<text x="969.1" y="679.2" font-size="10.5" fill="#22292c" text-anchor="middle" textLength="40.0" lengthAdjust="spacingAndGlyphs" stroke="#22292c" stroke-width="0.3">von Tieren</text>
<text x="920.1" y="686.0" font-size="5.8" fill="#22292c" textLength="98.6" lengthAdjust="spacingAndGlyphs" stroke="#22292c" stroke-width="0.3">(gebunden an H-Atome oder C-Atome)</text>
<text x="814.7" y="697.0" font-size="7.5" fill="#22292c" textLength="78.8" lengthAdjust="spacingAndGlyphs" stroke="#22292c" stroke-width="0.3">Pflanzliches Material wird von</text>
<text x="810.8" y="704.4" font-size="7.5" fill="#22292c" textLength="87.5" lengthAdjust="spacingAndGlyphs" stroke="#22292c" stroke-width="0.3">tierischen Organismen gefressen</text>
<text x="923.6" y="777.4" font-size="7.5" fill="#22292c" textLength="12.6" lengthAdjust="spacingAndGlyphs" stroke="#22292c" stroke-width="0.3">Tiere</text>
<text x="919.7" y="784.2" font-size="7.5" fill="#22292c" textLength="20.4" lengthAdjust="spacingAndGlyphs" stroke="#22292c" stroke-width="0.3">sterben</text>
<text x="1002.4" y="774.4" font-size="7.5" fill="#22292c" textLength="26.2" lengthAdjust="spacingAndGlyphs" stroke="#22292c" stroke-width="0.3">Ausschei-</text>
<text x="1005.3" y="781.2" font-size="7.5" fill="#22292c" textLength="19.4" lengthAdjust="spacingAndGlyphs" stroke="#22292c" stroke-width="0.3">dungen</text>
<text x="910.0" y="812.4" font-size="7" fill="#332222" textLength="29.2" lengthAdjust="spacingAndGlyphs" stroke="#332222" stroke-width="0.3">N-Atome in</text>
<text x="908.0" y="819.2" font-size="7" fill="#332222" textLength="32.0" lengthAdjust="spacingAndGlyphs" stroke="#332222" stroke-width="0.3">diversen org.</text>
<text x="912.9" y="826.0" font-size="7" fill="#332222" textLength="24.3" lengthAdjust="spacingAndGlyphs" stroke="#332222" stroke-width="0.3">Molekülen</text>
<text x="830.3" y="882.4" font-size="9.5" fill="#332222" textLength="54.4" lengthAdjust="spacingAndGlyphs" stroke="#332222" stroke-width="0.3">Pflanzenmaterial</text>
<text x="844.9" y="891.1" font-size="9.5" fill="#332222" textLength="26.2" lengthAdjust="spacingAndGlyphs" stroke="#332222" stroke-width="0.3">stirbt ab</text>
<text x="907.0" y="897.0" font-size="6.5" fill="#332222" textLength="28.0" lengthAdjust="spacingAndGlyphs" stroke="#332222" stroke-width="0.3">Destruenten</text>
<text x="907.0" y="904.0" font-size="6.5" fill="#332222" textLength="27.0" lengthAdjust="spacingAndGlyphs" stroke="#332222" stroke-width="0.3">zersetzen org.</text>
<text x="907.0" y="911.0" font-size="6.5" fill="#332222" textLength="35.0" lengthAdjust="spacingAndGlyphs" stroke="#332222" stroke-width="0.3">Material und setzen</text>
<text x="907.0" y="918.0" font-size="6.5" fill="#332222" textLength="25.0" lengthAdjust="spacingAndGlyphs" stroke="#332222" stroke-width="0.3">dabei NH3 frei.</text>
<text x="780.2" y="955.3" font-size="9.5" fill="#332222" textLength="93.0" lengthAdjust="spacingAndGlyphs" stroke="#332222" stroke-width="0.3"><tspan>Pflanzen können NH</tspan><tspan font-size="6.2" dy="2.1">4</tspan><tspan dy="-2.1">+-Ionen</tspan></text>
<text x="780.2" y="964.6" font-size="9.5" fill="#332222" textLength="116.8" lengthAdjust="spacingAndGlyphs" stroke="#332222" stroke-width="0.3">aufnehmen und bauen die N-Atome</text>
<text x="780.2" y="972.6" font-size="9.5" fill="#332222" textLength="65.1" lengthAdjust="spacingAndGlyphs" stroke="#332222" stroke-width="0.3">in org. Moleküle ein.</text>
<text x="1032.5" y="1014.0" font-size="8" fill="#332222" text-anchor="end" textLength="14.6" lengthAdjust="spacingAndGlyphs" stroke="#332222" stroke-width="0.3">best.</text>
<text x="1033.2" y="1022.8" font-size="8" fill="#332222" text-anchor="end" textLength="29.2" lengthAdjust="spacingAndGlyphs" stroke="#332222" stroke-width="0.3">Bakterien</text>
<text x="1033.0" y="1030.6" font-size="8" fill="#332222" text-anchor="end" textLength="35.8" lengthAdjust="spacingAndGlyphs" stroke="#332222" stroke-width="0.3">setzen NH4+</text>
<text x="1032.2" y="1038.3" font-size="8" fill="#332222" text-anchor="end" textLength="36.0" lengthAdjust="spacingAndGlyphs" stroke="#332222" stroke-width="0.3">zu NO2- um.</text>
<text x="1033.2" y="1047.0" font-size="8" fill="#332222" text-anchor="end" textLength="45.7" lengthAdjust="spacingAndGlyphs" stroke="#332222" stroke-width="0.3">(O2-Verbrauch)</text>
<text x="1032.5" y="1146.2" font-size="8" fill="#332222" text-anchor="end" textLength="14.6" lengthAdjust="spacingAndGlyphs" stroke="#332222" stroke-width="0.3">best.</text>
<text x="1033.2" y="1155.0" font-size="8" fill="#332222" text-anchor="end" textLength="29.2" lengthAdjust="spacingAndGlyphs" stroke="#332222" stroke-width="0.3">Bakterien</text>
<text x="1033.0" y="1162.8" font-size="8" fill="#332222" text-anchor="end" textLength="35.8" lengthAdjust="spacingAndGlyphs" stroke="#332222" stroke-width="0.3">setzen NO2-</text>
<text x="1032.2" y="1170.5" font-size="8" fill="#332222" text-anchor="end" textLength="36.0" lengthAdjust="spacingAndGlyphs" stroke="#332222" stroke-width="0.3">zu NO3- um.</text>
<text x="1033.2" y="1179.2" font-size="8" fill="#332222" text-anchor="end" textLength="45.7" lengthAdjust="spacingAndGlyphs" stroke="#332222" stroke-width="0.3">(O2-Verbrauch)</text>
<text x="0.0" y="0.0" font-size="9.5" fill="#332222" textLength="81.7" lengthAdjust="spacingAndGlyphs" transform="translate(613.5,915.4) rotate(-90)" stroke="#332222" stroke-width="0.3">Im Verlaufe der Reaktion</text>
<text x="0.0" y="0.0" font-size="9.5" fill="#332222" textLength="122.5" lengthAdjust="spacingAndGlyphs" transform="translate(614.5,1050.0) rotate(-90)" stroke="#332222" stroke-width="0.3">meist anaeroben Bedingungen zu N2,</text>
<text x="0.0" y="0.0" font-size="9.5" fill="#332222" textLength="50.6" lengthAdjust="spacingAndGlyphs" transform="translate(623.0,1050.0) rotate(-90)" stroke="#332222" stroke-width="0.3">N2O entstehen.</text>
<text x="0.0" y="0.0" font-size="9.5" fill="#332222" textLength="125.4" lengthAdjust="spacingAndGlyphs" transform="translate(614.5,1183.2) rotate(-90)" stroke="#332222" stroke-width="0.3">Best. Bakterien verarbeiten NO3- unter</text>
<text x="0.0" y="0.0" font-size="9.5" fill="#332222" textLength="116.7" lengthAdjust="spacingAndGlyphs" transform="translate(623.0,1183.2) rotate(-90)" stroke="#332222" stroke-width="0.3">können als Nebenprodukte NO und</text>
<text x="0.0" y="0.0" font-size="9.5" fill="#332222" textLength="96.2" lengthAdjust="spacingAndGlyphs" transform="translate(666.0,907.6) rotate(-90)" stroke="#332222" stroke-width="0.3">Pflanzen nehmen NO3--Ionen</text>
<text x="0.0" y="0.0" font-size="9.5" fill="#332222" textLength="99.1" lengthAdjust="spacingAndGlyphs" transform="translate(676.7,907.6) rotate(-90)" stroke="#332222" stroke-width="0.3">auf und bauen die N-Atome in</text>
<text x="0.0" y="0.0" font-size="9.5" fill="#332222" textLength="59.3" lengthAdjust="spacingAndGlyphs" transform="translate(687.4,907.6) rotate(-90)" stroke="#332222" stroke-width="0.3">org. Moleküle ein.</text>
<g stroke="#173a1c" stroke-width="0.9" fill="#2f8b3e"><path d="M663,783 Q662,772 660.5,766 Q660.5,762 663,759.5" fill="none" stroke="#1e3f22" stroke-width="1.4"/><path d="M662.5,761 Q664,754 668,754 Q672,754 674,756 Q669,757 666,760 Q664,762 662.5,761Z"/><path d="M660,765.5 Q655,760.5 646.5,764.5 Q652,768.5 660,765.5 Z"/><path d="M665.5,774.5 Q667,766 674,765.5 Q678,765.5 680,767.5 Q676,768 672,772 Q668,776 665.5,774.5 Z"/><path d="M661.5,777 Q657,770.5 648.5,771.5 Q652,778.5 661.5,777 Z"/></g><ellipse cx="663.4" cy="785.2" rx="7.8" ry="3.8" fill="#4a2e22"/>
<g stroke="#a8764f" stroke-width="0.7"><path d="M976,763 L998,763.5 Q1000.5,766 1000,772 L999,786 L996.5,786 L996,777 L983,777.5 L981.5,786.5 L978.5,786.5 L977.5,776 Q975,771 974,768 Z" fill="#f6e6d6"/><path d="M979,763.5 Q986,762.5 991.5,764 Q990,769.5 983,770 Q979.5,768 979,763.5 Z" fill="#b4531f" stroke="none"/><path d="M968.5,761 Q972,759 975.5,762 L976,768 Q972,770 969.5,767 Z" fill="#f3dfcc"/></g>
</g>
<rect x="510.40" y="397.50" width="129.3" height="129.4" rx="8" fill="none" stroke="#515658" stroke-width="1.5"/>
<rect x="641.95" y="397.50" width="129.3" height="129.4" rx="8" fill="none" stroke="#515658" stroke-width="1.5"/>
<rect x="773.50" y="397.50" width="129.3" height="129.4" rx="8" fill="none" stroke="#515658" stroke-width="1.5"/>
<rect x="905.05" y="397.50" width="129.3" height="129.4" rx="8" fill="none" stroke="#515658" stroke-width="1.5"/>
<rect x="1036.60" y="397.50" width="129.3" height="129.4" rx="8" fill="none" stroke="#515658" stroke-width="1.5"/>
<rect x="510.40" y="529.15" width="129.3" height="129.4" rx="8" fill="none" stroke="#515658" stroke-width="1.5"/>
<rect x="641.95" y="529.15" width="129.3" height="129.4" rx="8" fill="none" stroke="#515658" stroke-width="1.5"/>
<rect x="773.50" y="529.15" width="129.3" height="129.4" rx="8" fill="none" stroke="#515658" stroke-width="1.5"/>
<rect x="905.05" y="529.15" width="129.3" height="129.4" rx="8" fill="none" stroke="#515658" stroke-width="1.5"/>
<rect x="1036.60" y="529.15" width="129.3" height="129.4" rx="8" fill="none" stroke="#515658" stroke-width="1.5"/>
<rect x="510.40" y="660.80" width="129.3" height="129.4" rx="8" fill="none" stroke="#515658" stroke-width="1.5"/>
<rect x="641.95" y="660.80" width="129.3" height="129.4" rx="8" fill="none" stroke="#515658" stroke-width="1.5"/>
<rect x="773.50" y="660.80" width="129.3" height="129.4" rx="8" fill="none" stroke="#515658" stroke-width="1.5"/>
<rect x="905.05" y="660.80" width="129.3" height="129.4" rx="8" fill="none" stroke="#515658" stroke-width="1.5"/>
<rect x="1036.60" y="660.80" width="129.3" height="129.4" rx="8" fill="none" stroke="#515658" stroke-width="1.5"/>
<rect x="510.40" y="792.45" width="129.3" height="129.4" rx="8" fill="none" stroke="#515658" stroke-width="1.5"/>
<rect x="641.95" y="792.45" width="129.3" height="129.4" rx="8" fill="none" stroke="#515658" stroke-width="1.5"/>
<rect x="773.50" y="792.45" width="129.3" height="129.4" rx="8" fill="none" stroke="#515658" stroke-width="1.5"/>
<rect x="905.05" y="792.45" width="129.3" height="129.4" rx="8" fill="none" stroke="#515658" stroke-width="1.5"/>
<rect x="1036.60" y="792.45" width="129.3" height="129.4" rx="8" fill="none" stroke="#515658" stroke-width="1.5"/>
<rect x="510.40" y="924.10" width="129.3" height="129.4" rx="8" fill="none" stroke="#515658" stroke-width="1.5"/>
<rect x="641.95" y="924.10" width="129.3" height="129.4" rx="8" fill="none" stroke="#515658" stroke-width="1.5"/>
<rect x="773.50" y="924.10" width="129.3" height="129.4" rx="8" fill="none" stroke="#515658" stroke-width="1.5"/>
<rect x="905.05" y="924.10" width="129.3" height="129.4" rx="8" fill="none" stroke="#515658" stroke-width="1.5"/>
<rect x="1036.60" y="924.10" width="129.3" height="129.4" rx="8" fill="none" stroke="#515658" stroke-width="1.5"/>
<rect x="510.40" y="1055.75" width="129.3" height="129.4" rx="8" fill="none" stroke="#515658" stroke-width="1.5"/>
<rect x="641.95" y="1055.75" width="129.3" height="129.4" rx="8" fill="none" stroke="#515658" stroke-width="1.5"/>
<rect x="773.50" y="1055.75" width="129.3" height="129.4" rx="8" fill="none" stroke="#515658" stroke-width="1.5"/>
<rect x="905.05" y="1055.75" width="129.3" height="129.4" rx="8" fill="none" stroke="#515658" stroke-width="1.5"/>
<rect x="1036.60" y="1055.75" width="129.3" height="129.4" rx="8" fill="none" stroke="#515658" stroke-width="1.5"/>
<rect x="510.40" y="1187.40" width="129.3" height="129.4" rx="8" fill="none" stroke="#515658" stroke-width="1.5"/>
<rect x="641.95" y="1187.40" width="129.3" height="129.4" rx="8" fill="none" stroke="#515658" stroke-width="1.5"/>
<rect x="773.50" y="1187.40" width="129.3" height="129.4" rx="8" fill="none" stroke="#515658" stroke-width="1.5"/>
<rect x="905.05" y="1187.40" width="129.3" height="129.4" rx="8" fill="none" stroke="#515658" stroke-width="1.5"/>
<rect x="1036.60" y="1187.40" width="129.3" height="129.4" rx="8" fill="none" stroke="#515658" stroke-width="1.5"/>
<path d="M1229,495 C1180,500 1120,515 1048.75,551.25 L1041.9,538.75 L1016.9,578.75 L1070,580 L1056.25,566.9 C1120,538 1175,534 1229,544.4 Z" fill="#f5ac12"/>
<path d="M1225,495.2 C1180,500 1120,515 1048.75,551.25 L1041.9,538.75 L1016.9,578.75 L1070,580 L1056.25,566.9 C1120,538 1175,534 1225,543.8" fill="none" stroke="#000" stroke-width="3.2" stroke-linejoin="miter"/>
<circle cx="975" cy="580.5" r="35.5" fill="#cfe6ea"/>
<circle cx="974.3" cy="580.6" r="28.8" fill="#fff" stroke="#222" stroke-width="1.1"/>
<circle cx="975" cy="580.5" r="39.05" fill="none" stroke="#000" stroke-width="15.8"/>
<circle cx="975" cy="580.5" r="39.05" fill="none" stroke="#f5ac12" stroke-width="8.7"/>
<text x="954.6" y="589.4" font-size="28.6" fill="#111" textLength="39.0" lengthAdjust="spacingAndGlyphs" stroke="#111" stroke-width="0.3">NO</text>
<text x="988.8" y="594.6" font-size="14" fill="#111" textLength="7.2" lengthAdjust="spacingAndGlyphs" stroke="none">x</text>
<defs>
<linearGradient id="pgBlue" x1="0" y1="0" x2="0" y2="1"><stop offset="0" stop-color="#4f7fba"/><stop offset="1" stop-color="#5b8bc7"/></linearGradient>
<linearGradient id="pgRed" x1="0" y1="0" x2="0" y2="1"><stop offset="0" stop-color="#c3514e"/><stop offset="1" stop-color="#cf5b57"/></linearGradient>
<linearGradient id="pgGreen" x1="0" y1="0" x2="0" y2="1"><stop offset="0" stop-color="#9ec05a"/><stop offset="1" stop-color="#a6c566"/></linearGradient>
<linearGradient id="pgPurple" x1="0" y1="0" x2="0" y2="1"><stop offset="0" stop-color="#8265a6"/><stop offset="1" stop-color="#8a6db0"/></linearGradient>
<linearGradient id="pgCyan" x1="0" y1="0" x2="0" y2="1"><stop offset="0" stop-color="#46aacb"/><stop offset="1" stop-color="#4fb2d0"/></linearGradient>
<linearGradient id="wBlue" x1="0" y1="0" x2="0" y2="1"><stop offset="0" stop-color="#3d6aa3"/><stop offset="1" stop-color="#233f66"/></linearGradient>
<linearGradient id="wRed" x1="0" y1="0" x2="0" y2="1"><stop offset="0" stop-color="#b04542"/><stop offset="1" stop-color="#7e2e2c"/></linearGradient>
<filter id="tsh" x="-10%" y="-10%" width="130%" height="140%"><feDropShadow dx="1.5" dy="2" stdDeviation="1.5" flood-color="#000" flood-opacity="0.55"/></filter>
</defs>
<path d="M1617.50,781.50 A139.5,115 0 0 1 1360.22,843.12 L1360.22,854.91 A139.5,137 0 0 0 1617.50,781.50 Z" fill="url(#wBlue)"/>
<path d="M1360.22,843.12 A139.5,115 0 0 1 1338.50,781.50 L1338.50,781.50 A139.5,137 0 0 0 1360.22,854.91 Z" fill="url(#wRed)"/>
<path d="M1478.00,781.50 L1478.00,666.50 A139.5,115 0 1 1 1360.22,843.12 Z" fill="url(#pgBlue)"/>
<path d="M1478.00,781.50 L1360.22,843.12 A139.5,115 0 0 1 1469.24,666.73 Z" fill="url(#pgRed)"/>
<path d="M1478.00,781.50 L1469.24,666.73 A139.5,115 0 0 1 1478.00,666.50 Z" fill="url(#pgGreen)"/>
<ellipse cx="1478" cy="781.5" rx="138.5" ry="114" fill="none" stroke="#ffffff" stroke-opacity="0.18" stroke-width="2"/>
<text x="1419.2" y="774.4" font-size="50" fill="#fff" textLength="99.5" lengthAdjust="spacingAndGlyphs" filter="url(#tsh)">15,2</text>
<text x="1386.2" y="838.6" font-size="51" fill="#fff" textLength="177.5" lengthAdjust="spacingAndGlyphs" filter="url(#tsh)">Mt/Jahr</text>
<path d="M2177.50,781.50 A139.5,115 0 0 1 1994.89,890.87 L1994.89,911.79 A139.5,137 0 0 0 2177.50,781.50 Z" fill="url(#wBlue)"/>
<path d="M1994.89,890.87 A139.5,115 0 0 1 1898.50,781.50 L1898.50,781.50 A139.5,137 0 0 0 1994.89,911.79 Z" fill="url(#wRed)"/>
<path d="M2038.00,781.50 L2038.00,666.50 A139.5,115 0 1 1 1994.89,890.87 Z" fill="url(#pgBlue)"/>
<path d="M2038.00,781.50 L1994.89,890.87 A139.5,115 0 0 1 1902.88,752.90 Z" fill="url(#pgRed)"/>
<path d="M2038.00,781.50 L1902.88,752.90 A139.5,115 0 0 1 1970.80,680.72 Z" fill="url(#pgGreen)"/>
<path d="M2038.00,781.50 L1970.80,680.72 A139.5,115 0 0 1 2029.24,666.73 Z" fill="url(#pgPurple)"/>
<path d="M2038.00,781.50 L2029.24,666.73 A139.5,115 0 0 1 2038.00,666.50 Z" fill="url(#pgCyan)"/>
<ellipse cx="2038" cy="781.5" rx="138.5" ry="114" fill="none" stroke="#ffffff" stroke-opacity="0.18" stroke-width="2"/>
<text x="1987.0" y="775.4" font-size="50" fill="#fff" textLength="101.5" lengthAdjust="spacingAndGlyphs" filter="url(#tsh)">59,8</text>
<text x="1956.9" y="838.6" font-size="51" fill="#fff" textLength="177.5" lengthAdjust="spacingAndGlyphs" filter="url(#tsh)">Mt/Jahr</text>
<line x1="1351.6" y1="665.6" x2="1395.2" y2="692" stroke="#000" stroke-width="2.2"/>
<line x1="1529.3" y1="623" x2="1472.4" y2="665.6" stroke="#000" stroke-width="2.2"/>
<line x1="1559.7" y1="903.3" x2="1593.3" y2="937.7" stroke="#000" stroke-width="2.2"/>
<line x1="1977.2" y1="650.8" x2="1998.3" y2="671.3" stroke="#000" stroke-width="2.2"/>
<line x1="1879.2" y1="688" x2="1930.4" y2="708.7" stroke="#000" stroke-width="2.2"/>
<line x1="2128.6" y1="649" x2="2032.8" y2="666.4" stroke="#000" stroke-width="2.2"/>
<line x1="1922.1" y1="865" x2="1872.7" y2="914" stroke="#000" stroke-width="2.2"/>
<line x1="2155.2" y1="861.8" x2="2195" y2="909.7" stroke="#000" stroke-width="2.2"/>
<text x="1487.2" y="596.6" font-size="23.5" fill="#000" font-weight="bold" textLength="257.5" lengthAdjust="spacingAndGlyphs"><tspan>N</tspan><tspan font-size="15.3" dy="5.2">2</tspan><tspan dy="-5.2">O-Photolyse in der</tspan></text>
<text x="1536.9" y="625.0" font-size="23.5" fill="#000" font-weight="bold" textLength="158.9" lengthAdjust="spacingAndGlyphs">Stratosphäre</text>
<text x="1599.4" y="654.5" font-size="23.5" fill="#000" textLength="34.6" lengthAdjust="spacingAndGlyphs">1%</text>
<text x="1268.8" y="651.4" font-size="23.5" fill="#000" font-weight="bold" textLength="69.5" lengthAdjust="spacingAndGlyphs">Blitze</text>
<text x="1282.5" y="680.9" font-size="23.5" fill="#000" textLength="48.8" lengthAdjust="spacingAndGlyphs">33%</text>
<text x="1482.4" y="962.2" font-size="23.5" fill="#000" font-weight="bold" textLength="251.7" lengthAdjust="spacingAndGlyphs">Mikrobische Quellen</text>
<text x="1557.4" y="991.6" font-size="23.5" fill="#000" font-weight="bold" textLength="109.6" lengthAdjust="spacingAndGlyphs">in Böden</text>
<text x="1587.0" y="1020.9" font-size="23.5" fill="#000" textLength="49.2" lengthAdjust="spacingAndGlyphs">66%</text>
<text x="1450.3" y="1052.5" font-size="20" fill="#555" font-style="italic" textLength="359.4" lengthAdjust="spacingAndGlyphs">durch zusätzlichen Mineraldünger</text>
<text x="1476.9" y="1081.4" font-size="20" fill="#555" font-style="italic" textLength="305.4" lengthAdjust="spacingAndGlyphs">auch anthropogen gesteigert</text>
<text x="1910.0" y="613.0" font-size="23.5" fill="#000" font-weight="bold" textLength="129.4" lengthAdjust="spacingAndGlyphs">Schifffahrt</text>
<text x="1957.1" y="642.3" font-size="23.5" fill="#000" textLength="33.4" lengthAdjust="spacingAndGlyphs">7%</text>
<text x="1736.3" y="666.8" font-size="23.5" fill="#000" font-weight="bold" textLength="190.7" lengthAdjust="spacingAndGlyphs">Straßenverkehr</text>
<text x="1809.0" y="696.9" font-size="23.5" fill="#000" textLength="46.8" lengthAdjust="spacingAndGlyphs">13%</text>
<text x="2143.8" y="651.3" font-size="23.5" fill="#000" font-weight="bold" textLength="141.6" lengthAdjust="spacingAndGlyphs">Luftverkehr</text>
<text x="2197.6" y="681.3" font-size="23.5" fill="#000" textLength="33.4" lengthAdjust="spacingAndGlyphs">1%</text>
<text x="1825.0" y="948.8" font-size="23.5" fill="#000" font-weight="bold" textLength="131.4" lengthAdjust="spacingAndGlyphs">Biomasse-</text>
<text x="1811.1" y="978.9" font-size="23.5" fill="#000" font-weight="bold" textLength="157.1" lengthAdjust="spacingAndGlyphs">verbrennung</text>
<text x="1868.4" y="1007.9" font-size="23.5" fill="#000" textLength="49.4" lengthAdjust="spacingAndGlyphs">24%</text>
<text x="2145.1" y="937.0" font-size="23.5" fill="#000" font-weight="bold" textLength="109.9" lengthAdjust="spacingAndGlyphs">Sonstige</text>
<text x="2120.4" y="967.1" font-size="23.5" fill="#000" font-weight="bold" textLength="159.4" lengthAdjust="spacingAndGlyphs">Verbrennung</text>
<text x="2083.9" y="997.2" font-size="23.5" fill="#000" font-weight="bold" textLength="232.4" lengthAdjust="spacingAndGlyphs">fossiler Treibstoffe</text>
<text x="2178.9" y="1026.2" font-size="23.5" fill="#000" textLength="48.3" lengthAdjust="spacingAndGlyphs">55%</text>
<rect x="1255.6" y="480.9" width="466.0" height="32.6" fill="#c6d5ec" stroke="#000" stroke-width="2"/>
<rect x="1255.6" y="513.5" width="466.0" height="42.8" fill="#c6d5ec" stroke="#000" stroke-width="2"/>
<text x="1303.4" y="511.6" font-size="23" fill="#000" font-weight="bold" textLength="371.3" lengthAdjust="spacingAndGlyphs">NATÜRLICHE „NO<tspan font-size="15" dy="4">x</tspan><tspan dy="-4">“-Emissionen</tspan></text>
<text x="1356.9" y="508.4" font-size="31" fill="#111" textLength="265.3" lengthAdjust="spacingAndGlyphs">Globale „natürliche“</text>
<text x="1356.0" y="542.2" font-size="25" fill="#111" textLength="264.3" lengthAdjust="spacingAndGlyphs">Insgesamt 15,2 Mt/Jahr</text>
<text x="1377.5" y="542.2" font-size="29" fill="#111" textLength="221.3" lengthAdjust="spacingAndGlyphs">NO<tspan font-size="19" dy="5">x</tspan><tspan dy="-5">-Emissionen</tspan></text>
<rect x="1792.4" y="480.9" width="466.1" height="32.6" fill="#c6d5ec" stroke="#000" stroke-width="2"/>
<rect x="1792.4" y="513.5" width="466.1" height="42.8" fill="#c6d5ec" stroke="#000" stroke-width="2"/>
<text x="1811.6" y="511.6" font-size="23" fill="#000" font-weight="bold" textLength="426.8" lengthAdjust="spacingAndGlyphs">ANTHROPOGENE „NO<tspan font-size="15" dy="4">x</tspan><tspan dy="-4">“-Emissionen</tspan></text>
<text x="1875.7" y="508.4" font-size="31" fill="#111" textLength="298.6" lengthAdjust="spacingAndGlyphs">Globale anthropogene</text>
<text x="1893.0" y="542.2" font-size="25" fill="#111" textLength="265.0" lengthAdjust="spacingAndGlyphs">Insgesamt 59,8 Mt/Jahr</text>
<text x="1914.0" y="542.2" font-size="29" fill="#111" textLength="220.0" lengthAdjust="spacingAndGlyphs">NO<tspan font-size="19" dy="5">x</tspan><tspan dy="-5">-Emissionen</tspan></text></svg>
</body></html>
